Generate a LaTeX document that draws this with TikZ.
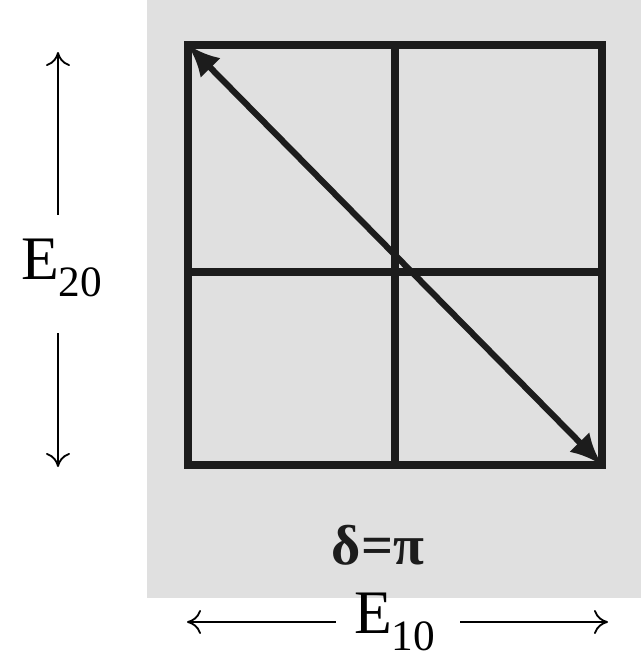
\documentclass[tikz,border=0pt]{standalone}
\usepackage{fontspec}
\setmainfont{Liberation Serif}
\usetikzlibrary{arrows.meta,positioning}
\definecolor{photo}{RGB}{224,224,224}
\definecolor{ink}{RGB}{28,28,28}

\begin{document}
\begin{tikzpicture}[
  x=0.025cm, y=-0.025cm,
  grid/.style={draw=ink, line width=5pt},
  field/.style={line width=1.3pt, -{To[length=3.5mm,width=6mm]}},
  lab/.style={font=\fontsize{44}{44}\selectfont, inner sep=0pt}
]
\useasboundingbox (0,0) rectangle (641,659);
\fill[photo] (147,0) rectangle (641,598);
% square with the two axes
\coordinate (tl) at (188,45);
\coordinate (br) at (602,465);
\draw[grid] (tl) rectangle (br);
\draw[grid] (395,45) -- (395,465);
\draw[grid] (188,272) -- (602,272);
\draw[draw=ink, line width=4.4pt, {Latex[length=8mm,width=7mm]}-{Latex[length=8mm,width=7mm]}] (tl) -- (br);
\node[lab, text=ink, font=\fontsize{40}{40}\selectfont\bfseries] (delta) at (378,545) {δ=π};
% amplitudes
\node[lab] (ey) at (62,268) {E\textsubscript{20}};
\coordinate (ytop) at (58,52);
\coordinate (ybot) at (58,467);
\draw[field] ([xshift=-0.1cm, yshift=0.6cm]ey.north) -- (ytop);
\draw[field] ([xshift=-0.1cm, yshift=-0.9cm]ey.south) -- (ybot);
\node[lab] (ex) at (395,622) {E\textsubscript{10}};
\coordinate (xl) at (187,622);
\coordinate (xr) at (608,622);
\draw[field] ([xshift=-0.45cm]ex.west) -- (xl);
\draw[field] ([xshift=0.6cm]ex.east) -- (xr);
\end{tikzpicture}
\end{document}
